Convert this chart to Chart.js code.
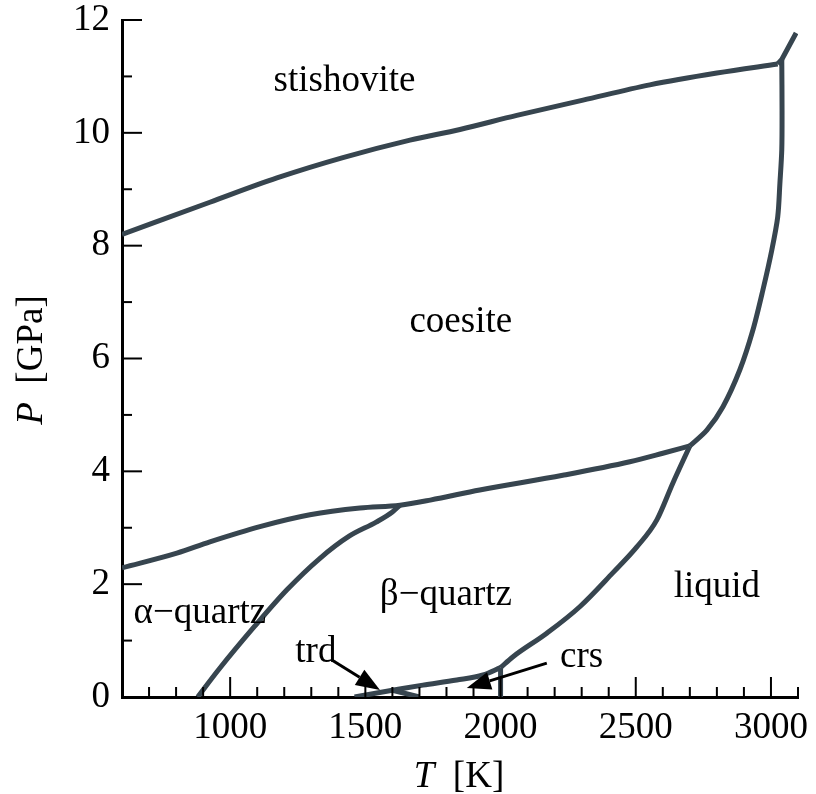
<!DOCTYPE html>
<html>
<head>
<meta charset="utf-8">
<title>Diagrama de fases SiO2</title>
<script src="https://cdn.jsdelivr.net/npm/chart.js@4.4.0/dist/chart.umd.min.js"></script>
<style>
  html, body { margin: 0; padding: 0; background: #fff; }
  #wrap { width: 816px; height: 794px; }
</style>
</head>
<body>
<div id="wrap"><canvas id="fases"></canvas></div>
<script>
// valores dos ticks principais
const ticksT = [1000, 1500, 2000, 2500, 3000];
const ticksP = [0, 2, 4, 6, 8, 10, 12];

// fronteiras de fase (T em K, P em GPa)
const stiCoeT = [600, 925, 1173, 1417, 1665, 1850, 2060, 2305, 2552, 2800, 3025];
const stiCoeP = [8.2, 8.77, 9.2, 9.56, 9.87, 10.06, 10.31, 10.58, 10.85, 11.06, 11.22];

const stiLiqT = [3025, 3040, 3093];
const stiLiqP = [11.22, 11.3, 11.77];

const coeLiqT = [3040, 3041, 3040, 3033, 3025, 3003, 2970, 2933, 2885, 2822, 2763, 2700];
const coeLiqP = [11.3, 10.4, 9.7, 9.1, 8.51, 7.92, 7.21, 6.5, 5.8, 5.14, 4.73, 4.45];

const betaLiqT = [2000, 2045, 2171, 2293, 2415, 2504, 2578, 2637, 2700];
const betaLiqP = [0.52, 0.71, 1.13, 1.6, 2.2, 2.66, 3.14, 3.79, 4.45];

const coeQtzT = [600, 803, 925, 1110, 1295, 1480, 1628, 1740, 1923, 2230, 2478, 2600, 2700];
const coeQtzP = [2.29, 2.55, 2.75, 3.02, 3.23, 3.35, 3.4, 3.49, 3.67, 3.93, 4.17, 4.32, 4.45];

const alfaBetaT = [880, 960, 1090, 1210, 1330, 1440, 1540, 1600, 1628];
const alfaBetaP = [0, 0.5, 1.25, 1.9, 2.45, 2.85, 3.1, 3.28, 3.4];

const betaTrdT = [1460, 1600];
const betaTrdP = [0, 0.12];

const trdCrsT = [1600, 1700];
const trdCrsP = [0.12, 0];

const betaCrsT = [1600, 1713, 1838, 1935, 2000];
const betaCrsP = [0.12, 0.21, 0.3, 0.39, 0.52];

const crsLiqT = [2000, 2000];
const crsLiqP = [0, 0.52];

// nomes das fases e onde escrever (T, P)
const rotulos = [
  { txt: 'stishovite', t: 1423, p: 10.74 },
  { txt: 'coesite', t: 1853, p: 6.47 },
  { txt: 'β−quartz', t: 1798, p: 1.63 },
  { txt: 'α−quartz', t: 888, p: 1.31 },
  { txt: 'liquid', t: 2800, p: 1.77 },
  { txt: 'trd', t: 1317, p: 0.62 },
  { txt: 'crs', t: 2300, p: 0.53 }
];

// setas das regioes pequenas
const setas = [
  { t0: 1376, p0: 0.655, t1: 1554, p1: 0.124 },
  { t0: 2171, p0: 0.6, t1: 1875, p1: 0.16 }
];

const COR = '#37454f';
const FONTE = '"Liberation Serif", "DejaVu Serif", serif';
const TAM = 37;

// linha suave: monotone quando T cresce, senao tension
function serie(ts, ps, suave) {
  const ds = {
    data: ts.map((t, i) => ({ x: t, y: ps[i] })),
    showLine: true,
    borderColor: COR,
    borderWidth: 5,
    pointRadius: 0,
    borderCapStyle: 'butt',
    borderJoinStyle: 'round'
  };
  if (suave === 'mono') ds.cubicInterpolationMode = 'monotone';
  else ds.tension = suave || 0;
  return ds;
}

const eixos = {
  id: 'eixos',
  afterDraw(chart) {
    const ctx = chart.ctx;
    const x = chart.scales.x, y = chart.scales.y;
    const area = chart.chartArea;

    // ticks para dentro
    ctx.save();
    ctx.strokeStyle = '#000';
    ctx.lineWidth = 2;
    for (let t = 700; t <= 3100; t += 100) {
      const px = x.getPixelForValue(t);
      const len = ticksT.includes(t) ? 20 : 10;
      ctx.beginPath();
      ctx.moveTo(px, area.bottom);
      ctx.lineTo(px, area.bottom - len);
      ctx.stroke();
    }
    for (let p = 1; p <= 12; p += 1) {
      const py = y.getPixelForValue(p);
      const len = ticksP.includes(p) ? 20 : 10;
      ctx.beginPath();
      ctx.moveTo(area.left, py);
      ctx.lineTo(area.left + len, py);
      ctx.stroke();
    }

    // setas
    ctx.fillStyle = '#000';
    ctx.lineWidth = 3;
    setas.forEach(s => {
      const ax = x.getPixelForValue(s.t0), ay = y.getPixelForValue(s.p0);
      const bx = x.getPixelForValue(s.t1), by = y.getPixelForValue(s.p1);
      const ang = Math.atan2(by - ay, bx - ax);
      const cab = 24, larg = 9;
      const cx = bx - cab * Math.cos(ang), cy = by - cab * Math.sin(ang);
      ctx.beginPath();
      ctx.moveTo(ax, ay);
      ctx.lineTo(cx, cy);
      ctx.stroke();
      ctx.beginPath();
      ctx.moveTo(bx, by);
      ctx.lineTo(cx + larg * Math.sin(ang), cy - larg * Math.cos(ang));
      ctx.lineTo(cx - larg * Math.sin(ang), cy + larg * Math.cos(ang));
      ctx.closePath();
      ctx.fill();
    });

    // nomes das fases
    ctx.font = TAM + 'px ' + FONTE;
    ctx.textAlign = 'center';
    ctx.textBaseline = 'alphabetic';
    rotulos.forEach(r => {
      ctx.fillText(r.txt, x.getPixelForValue(r.t), y.getPixelForValue(r.p));
    });

    // titulos dos eixos: variavel em italico
    const titulo = (it, resto, cx, cy, rot) => {
      ctx.save();
      ctx.translate(cx, cy);
      ctx.rotate(rot);
      ctx.font = 'italic ' + TAM + 'px ' + FONTE;
      const w1 = ctx.measureText(it).width;
      ctx.font = TAM + 'px ' + FONTE;
      const w2 = ctx.measureText(resto).width;
      const sx = -(w1 + w2) / 2;
      ctx.textAlign = 'left';
      ctx.font = 'italic ' + TAM + 'px ' + FONTE;
      ctx.fillText(it, sx, 0);
      ctx.font = TAM + 'px ' + FONTE;
      ctx.fillText(resto, sx + w1, 0);
      ctx.restore();
    };
    titulo('T', '  [K]', 459, 787, 0);
    titulo('P', '  [GPa]', 42, 360, -Math.PI / 2);
    ctx.restore();
  }
};

new Chart(document.getElementById('fases'), {
  type: 'scatter',
  data: {
    datasets: [
      serie(stiCoeT, stiCoeP, 'mono'),
      serie(stiLiqT, stiLiqP, 0),
      serie(coeLiqT, coeLiqP, 0.3),
      serie(betaLiqT, betaLiqP, 'mono'),
      serie(coeQtzT, coeQtzP, 'mono'),
      serie(alfaBetaT, alfaBetaP, 'mono'),
      serie(betaTrdT, betaTrdP, 0),
      serie(trdCrsT, trdCrsP, 0),
      serie(betaCrsT, betaCrsP, 'mono'),
      serie(crsLiqT, crsLiqP, 0)
    ]
  },
  options: {
    responsive: true,
    maintainAspectRatio: false,
    animation: false,
    layout: { padding: { top: 20, right: 18, left: 0, bottom: 0 } },
    plugins: { legend: { display: false }, tooltip: { enabled: false } },
    scales: {
      x: {
        type: 'linear',
        min: 600,
        max: 3100,
        afterBuildTicks: s => { s.ticks = ticksT.map(v => ({ value: v })); },
        afterFit: s => { s.height = 97; s.paddingLeft = 0; s.paddingRight = 0; },
        grid: { display: false, drawTicks: false },
        border: { display: true, width: 3, color: '#000' },
        ticks: {
          color: '#000', padding: 9, maxRotation: 0,
          font: { family: FONTE, size: TAM },
          callback: v => String(v)
        }
      },
      y: {
        type: 'linear',
        min: 0,
        max: 12,
        afterBuildTicks: s => { s.ticks = ticksP.map(v => ({ value: v })); },
        afterFit: s => { s.width = 122; s.paddingTop = 0; s.paddingBottom = 0; },
        grid: { display: false, drawTicks: false },
        border: { display: true, width: 3, color: '#000' },
        ticks: {
          color: '#000', padding: 12,
          font: { family: FONTE, size: TAM },
          callback: v => String(v)
        }
      }
    }
  },
  plugins: [eixos]
});
</script>
</body>
</html>
